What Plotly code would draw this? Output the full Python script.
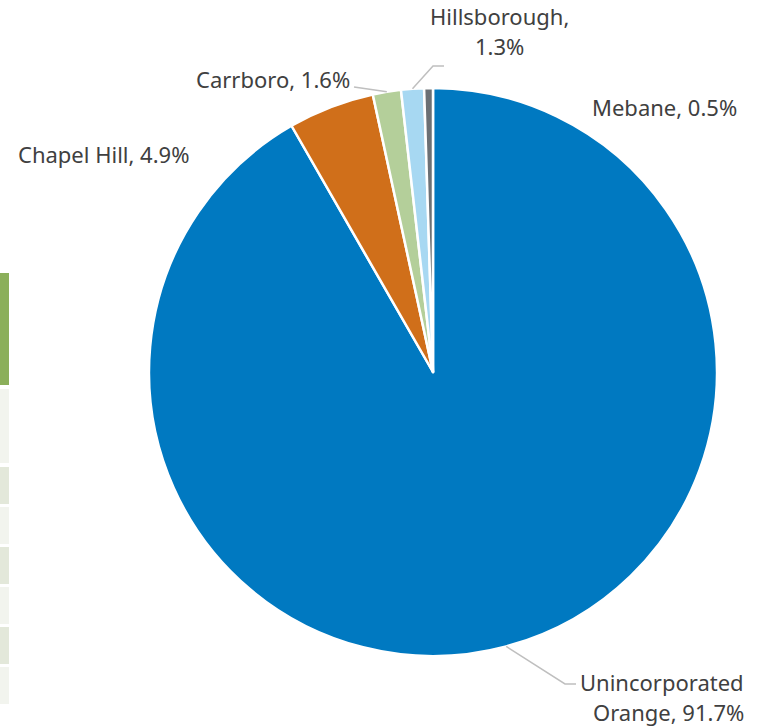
import plotly.graph_objects as go
import math

# ---- data ----
towns = ["Unincorporated Orange", "Chapel Hill", "Carrboro", "Hillsborough", "Mebane"]
shares = [91.7, 4.9, 1.6, 1.3, 0.5]
colors = ["#0079C1", "#D06F1A", "#B4CF9A", "#A7D8F2", "#6B7075"]
label_lines = [
    ["Unincorporated", "Orange, 91.7%"],
    ["Chapel Hill, 4.9%"],
    ["Carrboro, 1.6%"],
    ["Hillsborough,", "1.3%"],
    ["Mebane, 0.5%"],
]

W, H = 761, 727
CX, CY, R = 433, 372, 284  # pie centre / radius in pixels


def px(x):
    return x / W


def py(y):
    return 1 - y / H


fig = go.Figure()
fig.add_trace(go.Pie(
    labels=towns, values=shares, sort=False, direction="clockwise", rotation=0,
    marker=dict(colors=colors, line=dict(color="white", width=2.5)),
    textinfo="none", hoverinfo="label+percent", showlegend=False,
    domain=dict(x=[px(CX - R), px(CX + R)], y=[py(CY + R), py(CY - R)]),
))

# label placement (pixel anchors), xanchor
label_pos = {
    "Unincorporated Orange": (744, 682, "right"),
    "Chapel Hill": (18, 154, "left"),
    "Carrboro": (350, 79, "right"),
    "Hillsborough": (499, 16, "center"),
    "Mebane": (592, 107, "left"),
}
LINE_GAP = 30
annotations = []
for town, lines in zip(towns, label_lines):
    x0, y0, anc = label_pos[town]
    for i, ln in enumerate(lines):
        annotations.append(dict(
            x=px(x0), y=py(y0 + i * LINE_GAP), xref="paper", yref="paper",
            text=ln, showarrow=False, xanchor=anc, yanchor="middle",
            xshift=(-2 if anc == "left" else (2 if anc == "right" else 0)),
            font=dict(family="Noto Sans", size=22, color="#404040"),
        ))

# leader lines from slice edge (computed from data) to the labels
cum = 0
mids = {}
for t, v in zip(towns, shares):
    mids[t] = (cum + v / 2) / sum(shares) * 2 * math.pi
    cum += v


def edge(t):
    a = mids[t]
    return CX + R * math.sin(a), CY - R * math.cos(a)


leaders = {
    "Unincorporated Orange": [(565, 684), (576, 684)],
    "Carrboro": [(354, 87)],
    "Hillsborough": [(433, 66), (444, 66)],
}
shapes = []
for t, pts in leaders.items():
    path_pts = [edge(t)] + pts
    d = "M " + " L ".join(f"{px(x)},{py(y)}" for x, y in path_pts)
    shapes.append(dict(type="path", path=d, xref="paper", yref="paper",
                       line=dict(color="#BFBFBF", width=1.5)))

# decorative strip at the left edge of the source page
strip = [(273, 385, "#8BAF5A"), (389, 463, "#F2F4EE"), (467, 504, "#E3E8DA"),
         (507, 544, "#F2F4EE"), (547, 584, "#E3E8DA"), (587, 624, "#F2F4EE"),
         (627, 664, "#E3E8DA"), (667, 704, "#F2F4EE")]
for y0, y1, c in strip:
    shapes.append(dict(type="rect", xref="paper", yref="paper",
                       x0=0, x1=px(9), y0=py(y1), y1=py(y0),
                       fillcolor=c, line=dict(width=0), layer="below"))

fig.update_layout(
    width=W, height=H, margin=dict(l=0, r=0, t=0, b=0),
    paper_bgcolor="white", plot_bgcolor="white",
    annotations=annotations, shapes=shapes,
)
fig.write_html("out.html")
